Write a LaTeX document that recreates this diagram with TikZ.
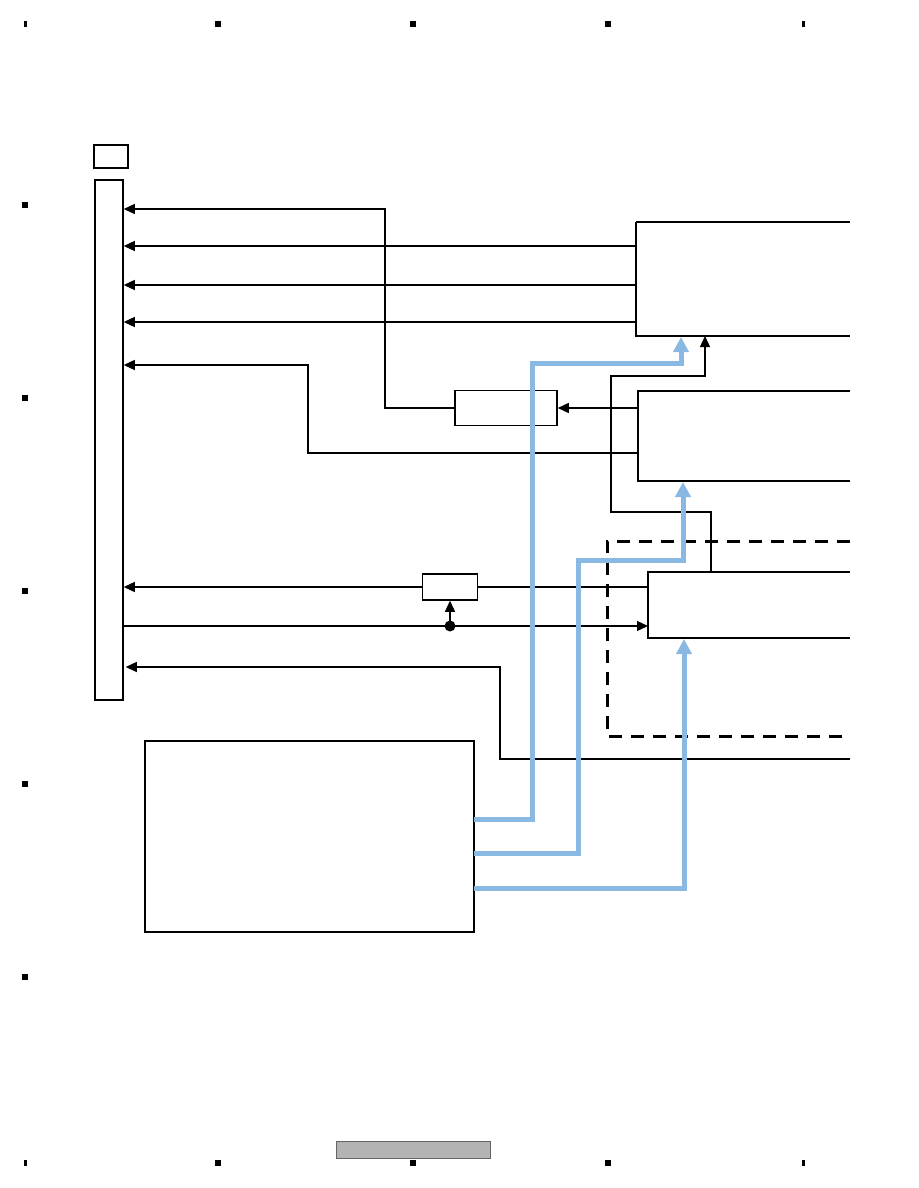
\documentclass[tikz,border=0pt]{standalone}
\usetikzlibrary{arrows.meta}
\definecolor{busblue}{RGB}{137,185,226}
\definecolor{keygray}{RGB}{179,179,179}
\definecolor{keyedge}{RGB}{100,100,100}
\begin{document}
\begin{tikzpicture}[x=1pt,y=-1pt,
  wire/.style={line width=1.3pt},
  arr/.style={wire,-{Triangle[length=11pt,width=10pt]}},
  bus/.style={line width=5pt,color=busblue,line join=miter},
  busarr/.style={bus,-{Triangle[length=15pt,width=15pt]}},
  box/.style={draw,line width=1.5pt,inner sep=0pt,fill=white},
  regmark/.style={fill=black,draw=none}]
\useasboundingbox[fill=white] (0,0) rectangle (918,1188);
% registration marks
\foreach \x in {218,413,608} {
  \fill[regmark] (\x-3,21) rectangle (\x+3,27);
  \fill[regmark] (\x-3,1160) rectangle (\x+3,1166);
}
\foreach \x in {25,803} {
  \fill[regmark] (\x-1.5,21) rectangle (\x+1.5,27);
  \fill[regmark] (\x-1.5,1160) rectangle (\x+1.5,1166);
}
\foreach \y in {205,398,591,784,977}
  \fill[regmark] (22,\y-3) rectangle (28,\y+3);
% footer gray box
\node[draw=keyedge,fill=keygray,line width=0.8pt,minimum width=154pt,minimum height=17pt,inner sep=0pt] (footer) at (413,1149.5) {};
% boxes
\node[box,minimum width=34pt,minimum height=23pt] (tag) at (111,156.5) {};
\node[box,minimum width=28pt,minimum height=520pt] (bar) at (109,440) {};
\node[box,minimum width=102pt,minimum height=35pt] (mid) at (506,408) {};
\node[box,minimum width=55pt,minimum height=26pt] (sb) at (450,587) {};
\node[box,minimum width=329pt,minimum height=191pt] (src) at (309.5,836.5) {};
% open boxes on the right
\coordinate (b1tl) at (636,222); \coordinate (b1bl) at (636,336);
\coordinate (b1tr) at (850,222); \coordinate (b1br) at (850,336);
\draw[line width=2.2pt] (b1tl) -- (b1tr);
\draw[wire] (b1tl) -- (b1bl) -- (b1br);
\coordinate (b2tl) at (638,391); \coordinate (b2bl) at (638,481);
\coordinate (b2tr) at (850,391); \coordinate (b2br) at (850,481);
\draw[wire] (b2tr) -- (b2tl) -- (b2bl) -- (b2br);
\coordinate (b3tl) at (648,572); \coordinate (b3bl) at (648,638);
\coordinate (b3tr) at (850,572); \coordinate (b3br) at (850,638);
\draw[wire] (b3tr) -- (b3tl) -- (b3bl) -- (b3br);
% dashed frame
\coordinate (dtr) at (850,541); \coordinate (dtl) at (607,541);
\coordinate (dbl) at (607,736); \coordinate (dbr) at (850,736);
\draw[line width=3pt,dash pattern=on 13pt off 9pt] (dtr) -- (dtl) -- (dbl) -- (dbr);
% signals into the bar
\coordinate (c1) at (385,209);
\draw[arr] (mid.west) -- (385,408) -- (c1) -- (bar.east |- c1);
\coordinate (b1a) at (636,246); \draw[arr] (b1a) -- (bar.east |- b1a);
\coordinate (b1b) at (636,285); \draw[arr] (b1b) -- (bar.east |- b1b);
\coordinate (b1c) at (636,322); \draw[arr] (b1c) -- (bar.east |- b1c);
\coordinate (b2b) at (638,453); \coordinate (c2) at (308,365);
\draw[arr] (b2b) -- (308,453) -- (c2) -- (bar.east |- c2);
\coordinate (b2a) at (638,408);
\draw[arr] (b2a) -- (mid.east);
% loop from box3 to box1
\coordinate (b1in) at (705,336);
\draw[arr] (711,572) -- (711,512) -- (611,512) -- (611,376) -- (705,376) -- (b1in);
% small box line
\coordinate (b3a) at (648,587);
\draw[wire] (b3a) -- (sb.east);
\draw[arr] (sb.west) -- (bar.east |- sb.west);
\coordinate (b3b) at (648,626);
\draw[arr] (bar.east |- b3b) -- (b3b);
\coordinate (dot) at (450,626);
\fill (dot) circle (5.5pt);
\draw[arr] (dot) -- (sb.south);
% bottom return line
\coordinate (rr) at (850,759); \coordinate (c3) at (500,667);
\draw[arr] (rr) -- (500,759) -- (c3) -- ([xshift=2pt]bar.east |- c3);
% blue buses
\coordinate (s1) at (474,819); \coordinate (s2) at (474,853); \coordinate (s3) at (474,888);
\draw[busarr] (s1) -- (532,819) -- (532,363) -- (681,363) -- (681,337);
\draw[busarr] (s2) -- (578,853) -- (578,560) -- (683,560) -- (683,482);
\draw[busarr] (s3) -- (684,888) -- (684,639);
\end{tikzpicture}
\end{document}
